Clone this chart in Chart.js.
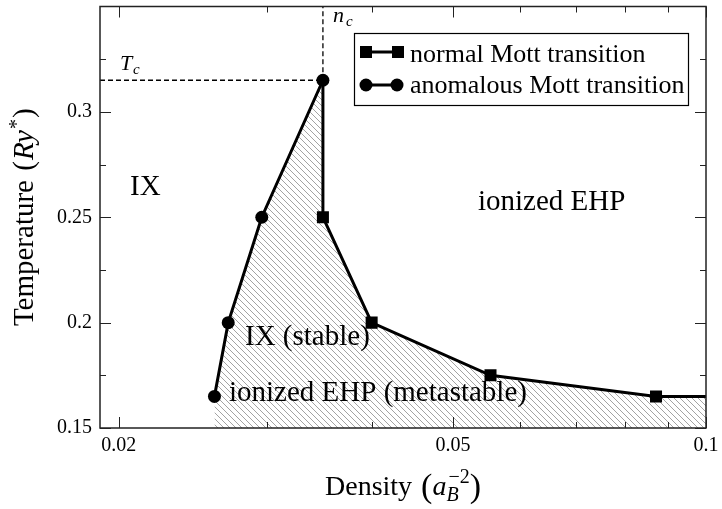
<!DOCTYPE html>
<html>
<head>
<meta charset="utf-8">
<script src="https://cdn.jsdelivr.net/npm/chart.js@4.4.0/dist/chart.umd.min.js"></script>
<style>
html, body { margin: 0; padding: 0; background: #fff; }
</style>
</head>
<body>
<canvas id="myChart" width="722" height="509"></canvas>
<script>
// values
var normalDensity = [0.035, 0.035, 0.040, 0.0554, 0.0872, 0.1];
var normalTemp    = [0.315, 0.25, 0.20, 0.175, 0.165, 0.165];
var normalMarks   = [0, 1, 1, 1, 1, 0];
var anomDensity   = [0.026, 0.0270, 0.0296, 0.035];
var anomTemp      = [0.165, 0.20, 0.25, 0.315];
var nc = 0.035;
var Tc = 0.315;
var xMin = 0.019, xMax = 0.1, yMin = 0.15, yMax = 0.35;
var xTicks = [0.02, 0.05, 0.1];
var xMinor = [0.03, 0.04, 0.06, 0.07, 0.08, 0.09];
var yTicks = [0.15, 0.2, 0.25, 0.3];
var yMinor = [0.175, 0.225, 0.275, 0.325];

var SERIF = '"Liberation Serif", "Times New Roman", serif';

function pts(xs, ys) {
    return xs.map(function (x, i) { return { x: x, y: ys[i] }; });
}

// hatched region = anomalous branch then normal branch
var hatchX = anomDensity.concat(normalDensity.slice(1));
var hatchY = anomTemp.concat(normalTemp.slice(1));

function makeHatch() {
    var s = 6;
    var c = document.createElement('canvas');
    c.width = s; c.height = s;
    var g = c.getContext('2d');
    g.strokeStyle = '#999';
    g.lineWidth = 0.9;
    g.beginPath();
    g.moveTo(-1, -1); g.lineTo(s + 1, s + 1);
    g.moveTo(-1, s - 1); g.lineTo(1, s + 1);
    g.moveTo(s - 1, -1); g.lineTo(s + 1, 1);
    g.stroke();
    return g.createPattern(c, 'repeat');
}

function drawParts(ctx, parts, x, y) {
    // parts: [text, font, dy, extra gap]
    parts.forEach(function (p) {
        ctx.font = p[1];
        ctx.fillText(p[0], x, y + (p[2] || 0));
        x += ctx.measureText(p[0]).width + (p[3] || 0);
    });
    return x;
}

function partsWidth(ctx, parts) {
    var w = 0;
    parts.forEach(function (p) {
        ctx.font = p[1];
        w += ctx.measureText(p[0]).width + (p[3] || 0);
    });
    return w;
}

var extras = {
    id: 'extras',
    afterDraw: function (chart) {
        var ctx = chart.ctx;
        var a = chart.chartArea;
        var xs = chart.scales.x, ys = chart.scales.y;
        ctx.save();

        // frame
        ctx.strokeStyle = '#222';
        ctx.lineWidth = 1.5;
        ctx.strokeRect(a.left, a.top, a.right - a.left, a.bottom - a.top);

        // inward ticks on all sides
        ctx.lineWidth = 1;
        ctx.beginPath();
        function xt(v, len) {
            var px = Math.round(xs.getPixelForValue(v)) + 0.5;
            ctx.moveTo(px, a.bottom); ctx.lineTo(px, a.bottom - len);
            ctx.moveTo(px, a.top); ctx.lineTo(px, a.top + len);
        }
        function yt(v, len) {
            var py = Math.round(ys.getPixelForValue(v)) + 0.5;
            ctx.moveTo(a.left, py); ctx.lineTo(a.left + len, py);
            ctx.moveTo(a.right, py); ctx.lineTo(a.right - len, py);
        }
        xTicks.forEach(function (v) { xt(v, 11); });
        xMinor.forEach(function (v) { xt(v, 6); });
        yTicks.forEach(function (v) { yt(v, 11); });
        yMinor.forEach(function (v) { yt(v, 6); });
        ctx.stroke();

        ctx.fillStyle = '#000';
        ctx.textBaseline = 'alphabetic';
        ctx.textAlign = 'left';

        // axis titles
        var f28 = '28px ' + SERIF, i28 = 'italic 28px ' + SERIF;
        var f20 = '20px ' + SERIF, i20 = 'italic 20px ' + SERIF;
        var big = '34px ' + SERIF;
        var xParts = [['Density ', f28, 0, 2], ['(', big, 2], ['a', i28]];
        var xw = partsWidth(ctx, xParts);
        ctx.font = f20; var supW = ctx.measureText('\u22122').width;
        ctx.font = big; var rpW = ctx.measureText(')').width;
        var total = xw + supW + 2 + rpW;
        var cx = (a.left + a.right) / 2;
        var px = drawParts(ctx, xParts, cx - total / 2, 495);
        ctx.font = i20; ctx.fillText('B', px, 501);
        ctx.font = f20; ctx.fillText('\u22122', px + 2, 483);
        ctx.font = big; ctx.fillText(')', px + supW + 2, 497);

        ctx.save();
        ctx.translate(33, (a.top + a.bottom) / 2);
        ctx.rotate(-Math.PI / 2);
        var f29 = '29px ' + SERIF, i29 = 'italic 29px ' + SERIF;
        var yParts = [['Temperature ', f29, 0, 2], ['(', f29, 0, 1], ['Ry', i29, 0, 1], ['*', f20, -10, 1], [')', f29]];
        drawParts(ctx, yParts, -partsWidth(ctx, yParts) / 2, 0);
        ctx.restore();

        // dashed guide labels
        ctx.font = 'italic 22px ' + SERIF;
        ctx.fillText('T', 120, 70);
        ctx.fillText('n', 333, 22);
        ctx.font = 'italic 15px ' + SERIF;
        ctx.fillText('c', 133, 74);
        ctx.fillText('c', 346, 26);

        // region labels
        ctx.font = '29px ' + SERIF;
        ctx.fillText('IX', 130, 195);
        ctx.fillText('ionized EHP', 478, 210);
        ctx.fillText('IX (stable)', 245, 345);
        ctx.fillText('ionized EHP (metastable)', 229, 401);

        // legend
        ctx.fillStyle = '#fff';
        ctx.fillRect(354, 33, 335, 73);
        ctx.strokeStyle = '#000';
        ctx.lineWidth = 1.2;
        ctx.strokeRect(354.5, 33.5, 334, 72);
        ctx.fillStyle = '#000';
        ctx.lineWidth = 3;
        ctx.beginPath();
        ctx.moveTo(366, 52); ctx.lineTo(398, 52);
        ctx.moveTo(366, 85); ctx.lineTo(397, 85);
        ctx.stroke();
        ctx.fillRect(360, 46, 12, 12);
        ctx.fillRect(392, 46, 12, 12);
        ctx.beginPath(); ctx.arc(366, 85, 6.5, 0, Math.PI * 2); ctx.fill();
        ctx.beginPath(); ctx.arc(397, 85, 6.5, 0, Math.PI * 2); ctx.fill();
        ctx.font = '26px ' + SERIF;
        ctx.fillText('normal Mott transition', 410, 62);
        ctx.fillText('anomalous Mott transition', 410, 93);

        ctx.restore();
    }
};

var ctx = document.getElementById('myChart').getContext('2d');
var myChart = new Chart(ctx, {
    type: 'scatter',
    data: {
        datasets: [{
            label: 'anomalous Mott transition',
            data: pts(anomDensity, anomTemp),
            showLine: true,
            borderColor: '#000',
            borderWidth: 3,
            pointStyle: 'circle',
            pointRadius: 6.5,
            pointBackgroundColor: '#000',
            pointBorderWidth: 0,
            order: 0
        }, {
            label: 'normal Mott transition',
            data: pts(normalDensity, normalTemp),
            showLine: true,
            borderColor: '#000',
            borderWidth: 3,
            pointStyle: 'rect',
            pointRadius: normalMarks.map(function (m) { return m ? 8.5 : 0; }),
            pointBackgroundColor: '#000',
            pointBorderWidth: 0,
            order: 1
        }, {
            label: 'Tc',
            data: [{ x: xMin, y: Tc }, { x: nc, y: Tc }],
            showLine: true,
            borderColor: '#000',
            borderWidth: 1.3,
            borderDash: [5, 3],
            pointRadius: 0,
            order: 2
        }, {
            label: 'nc',
            data: [{ x: nc, y: Tc }, { x: nc, y: yMax }],
            showLine: true,
            borderColor: '#000',
            borderWidth: 1.3,
            borderDash: [5, 3],
            pointRadius: 0,
            order: 2
        }, {
            label: 'hatch',
            data: pts(hatchX, hatchY),
            showLine: true,
            borderWidth: 0,
            borderColor: 'rgba(0,0,0,0)',
            backgroundColor: makeHatch(),
            fill: 'start',
            pointRadius: 0,
            order: 3
        }]
    },
    options: {
        responsive: false,
        animation: false,
        layout: { padding: { top: 3, right: 16, bottom: 0, left: 0 } },
        plugins: {
            legend: { display: false },
            tooltip: { enabled: false }
        },
        scales: {
            x: {
                type: 'logarithmic',
                min: xMin,
                max: xMax,
                grid: { display: false, drawTicks: false },
                border: { display: false },
                ticks: {
                    color: '#000',
                    padding: 6,
                    maxRotation: 0,
                    font: { family: SERIF, size: 20 },
                    callback: function (v) { return String(v); }
                },
                afterBuildTicks: function (s) {
                    s.ticks = xTicks.map(function (v) { return { value: v }; });
                },
                afterFit: function (s) {
                    s.height = 81;
                    s.paddingLeft = 0; s.paddingRight = 0;
                }
            },
            y: {
                type: 'linear',
                min: yMin,
                max: yMax,
                grid: { display: false, drawTicks: false },
                border: { display: false },
                ticks: {
                    color: '#000',
                    padding: 8,
                    font: { family: SERIF, size: 20 },
                    callback: function (v) { return String(v); }
                },
                afterBuildTicks: function (s) {
                    s.ticks = yTicks.map(function (v) { return { value: v }; });
                },
                afterFit: function (s) {
                    s.width = 100;
                    s.paddingTop = 0; s.paddingBottom = 0;
                }
            }
        }
    },
    plugins: [extras]
});
</script>
</body>
</html>
